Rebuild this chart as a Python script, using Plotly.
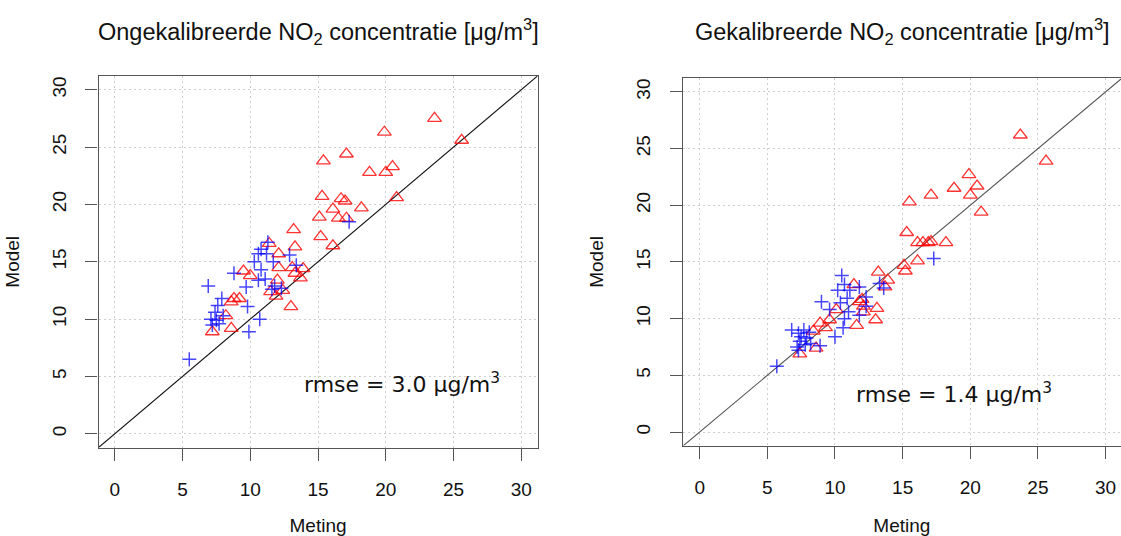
import plotly.graph_objects as go

# ---------------- data ----------------
# Left panel: uncalibrated
left_red_meting = [23.6, 19.9, 25.6, 17.1, 15.4, 20.5, 18.8, 20.0, 15.3, 16.7, 17.0, 20.8,
                   18.2, 16.1, 15.1, 16.5, 17.1, 15.2, 16.1, 13.9,
                   13.2, 13.3, 11.4, 12.1, 9.5, 10.0, 12.1, 13.1, 13.3, 13.7, 12.0, 11.5,
                   11.9, 12.4, 8.8, 9.2, 8.6, 13.0, 8.2, 8.6, 7.2]
left_red_model = [27.5, 26.3, 25.6, 24.4, 23.8, 23.3, 22.8, 22.8, 20.7, 20.5, 20.3, 20.6,
                  19.7, 19.6, 18.9, 18.8, 18.8, 17.2, 16.4, 14.4,
                  17.8, 16.3, 16.6, 15.7, 14.2, 13.8, 14.5, 14.5, 14.0, 13.6, 13.4, 12.4,
                  12.0, 12.5, 11.8, 11.8, 11.5, 11.1, 10.3, 9.2, 8.9]
left_blue_meting = [5.5, 6.9, 7.9, 7.6, 7.4, 7.1, 7.5, 7.2, 7.7, 8.0, 8.8, 9.7, 9.8, 10.7,
                    9.9, 11.3, 10.6, 11.2, 10.3, 10.8, 11.1, 11.7, 12.9, 11.8, 12.3, 11.6,
                    13.4, 10.8, 10.6, 17.3]
left_blue_model = [6.5, 12.9, 11.8, 11.2, 10.6, 10.0, 9.9, 9.5, 9.6, 10.3, 14.0, 12.8, 11.1,
                   10.0, 8.9, 16.7, 15.7, 15.7, 15.0, 14.3, 13.5, 15.0, 15.6, 12.9, 12.7,
                   12.6, 14.7, 16.1, 13.4, 18.5]

# Right panel: calibrated
right_red_meting = [23.7, 25.6, 19.9, 18.8, 20.5, 20.0, 17.1, 15.5, 20.8, 15.3, 16.1, 16.5,
                    16.9, 17.1, 18.2, 16.1, 15.1, 15.2, 13.9, 13.7, 13.2, 11.4, 13.1, 13.0,
                    12.1, 11.8, 12.1, 11.6, 10.1, 8.9, 9.3, 9.6, 8.4, 8.6, 7.4, 12.0]
right_red_model = [26.2, 23.9, 22.7, 21.5, 21.7, 20.9, 20.9, 20.3, 19.4, 17.6, 16.7, 16.7,
                   16.7, 16.8, 16.7, 15.1, 14.7, 14.2, 13.4, 12.8, 14.1, 13.0, 10.9, 9.9,
                   10.6, 11.5, 11.1, 9.4, 10.8, 9.6, 9.2, 9.9, 8.9, 7.4, 6.9, 11.7]
right_blue_meting = [5.7, 10.5, 10.2, 10.7, 11.1, 11.8, 9.0, 9.6, 10.4, 10.9, 11.0, 10.7,
                     10.6, 10.0, 8.9, 12.3, 12.3, 11.8, 13.6, 13.3, 6.8, 7.3, 7.5, 7.7,
                     7.9, 7.4, 7.2, 7.8, 8.2, 7.3, 8.1, 17.3]
right_blue_model = [5.8, 13.8, 12.5, 13.0, 12.5, 12.8, 11.5, 10.8, 11.4, 11.8, 10.6, 10.0,
                    9.2, 8.4, 7.6, 11.9, 11.1, 10.3, 12.7, 13.1, 9.0, 8.7, 8.4, 9.0,
                    8.3, 8.0, 7.5, 7.7, 7.8, 7.2, 8.8, 15.3]

tick_vals = [0, 5, 10, 15, 20, 25, 30]
tick_text = ["0", "5", "10", "15", "20", "25", "30"]
titles = ["Ongekalibreerde NO<sub>2</sub> concentratie [\u03bcg/m<sup>3</sup>]",
          "Gekalibreerde NO<sub>2</sub> concentratie [\u03bcg/m<sup>3</sup>]"]
rmse_texts = ["rmse = 3.0 \u00b5g/m<sup>3</sup>", "rmse = 1.4 \u00b5g/m<sup>3</sup>"]
x_label = "Meting"
y_label = "Model"

# ---------------- figure ----------------
W, H = 1121, 536
RED = "rgba(255,0,0,0.8)"
BLUE = "rgba(0,0,255,0.72)"
FRAME = "#555555"
FONT = "Liberation Sans, Arial, sans-serif"

fig = go.Figure()

panels = [
    dict(xa="x", ya="y", red=(left_red_meting, left_red_model),
         blue=(left_blue_meting, left_blue_model), diag="#111111"),
    dict(xa="x2", ya="y2", red=(right_red_meting, right_red_model),
         blue=(right_blue_meting, right_blue_model), diag="#555555"),
]

for p in panels:
    fig.add_trace(go.Scatter(x=[-5, 40], y=[-5, 40], mode="lines",
                             line=dict(color=p["diag"], width=1.1),
                             xaxis=p["xa"], yaxis=p["ya"], showlegend=False,
                             hoverinfo="skip"))
    fig.add_trace(go.Scatter(x=p["red"][0], y=p["red"][1], mode="markers",
                             marker=dict(symbol="triangle-up-open", size=12,
                                         color=RED, line=dict(color=RED, width=1.3)),
                             xaxis=p["xa"], yaxis=p["ya"], showlegend=False))
    fig.add_trace(go.Scatter(x=p["blue"][0], y=p["blue"][1], mode="markers",
                             marker=dict(symbol="cross-thin-open", size=10,
                                         color=BLUE, line=dict(color=BLUE, width=1.5)),
                             xaxis=p["xa"], yaxis=p["ya"], showlegend=False))

def axis_common():
    return dict(
        tickmode="array", tickvals=tick_vals, ticktext=tick_text,
        ticks="outside", ticklen=12, tickwidth=1.3, tickcolor=FRAME,
        showline=True, linecolor=FRAME, linewidth=1.3,
        showgrid=True, gridcolor="#cfcfcf", griddash="2px,3px", gridwidth=1,
        zeroline=False, tickfont=dict(family=FONT, size=19, color="#111"),
        title_font=dict(family=FONT, size=19, color="#111"),
        fixedrange=True,
    )

xl = axis_common(); xl.update(domain=[98.5 / W, 537.5 / W], range=[-1.2, 31.2],
                               anchor="y", mirror=True, ticklabelstandoff=12,
                               title=dict(text=x_label, standoff=22))
yl = axis_common(); yl.update(domain=[1 - 447.6 / H, 1 - 76 / H], range=[-1.2, 31.2],
                               anchor="x", mirror=True, tickangle=-90, ticklabelstandoff=12,
                               title=dict(text=y_label, standoff=24))
xr = axis_common(); xr.update(domain=[682.7 / W, 1.0], range=[-1.256, 31.14],
                               anchor="y2", mirror=True, ticklabelstandoff=12,
                               title=dict(text=x_label, standoff=22))
yr = axis_common(); yr.update(domain=[1 - 445.6 / H, 1 - 78.3 / H], range=[-1.2, 31.2],
                               anchor="x2", mirror=False, tickangle=-90, ticklabelstandoff=12,
                               title=dict(text=y_label, standoff=24))

fig.update_layout(
    width=W, height=H, margin=dict(l=0, r=0, t=0, b=0),
    paper_bgcolor="white", plot_bgcolor="white",
    xaxis=xl, yaxis=yl, xaxis2=xr, yaxis2=yr,
    showlegend=False,
)

# titles
title_x = [(98.5 + 537.5) / 2 / W, (682.7 + 1121.7) / 2 / W]
for t, tx in zip(titles, title_x):
    fig.add_annotation(text=t, xref="paper", yref="paper", x=tx, y=1 - 32 / H,
                       xanchor="center", yanchor="middle", showarrow=False,
                       font=dict(family=FONT, size=23.5, color="#111"))

# rmse labels
fig.add_annotation(text=rmse_texts[0], xref="x", yref="y", x=21.2, y=4.4,
                   showarrow=False, xanchor="center", yanchor="middle",
                   font=dict(family="DejaVu Sans, Verdana, sans-serif", size=22, color="#111"))
fig.add_annotation(text=rmse_texts[1], xref="x2", yref="y2", x=18.8, y=3.4,
                   showarrow=False, xanchor="center", yanchor="middle",
                   font=dict(family="DejaVu Sans, Verdana, sans-serif", size=22, color="#111"))

fig.write_html("out.html", config={"displayModeBar": False},
               post_script="document.body.style.margin='0';document.body.style.overflow='hidden';")
